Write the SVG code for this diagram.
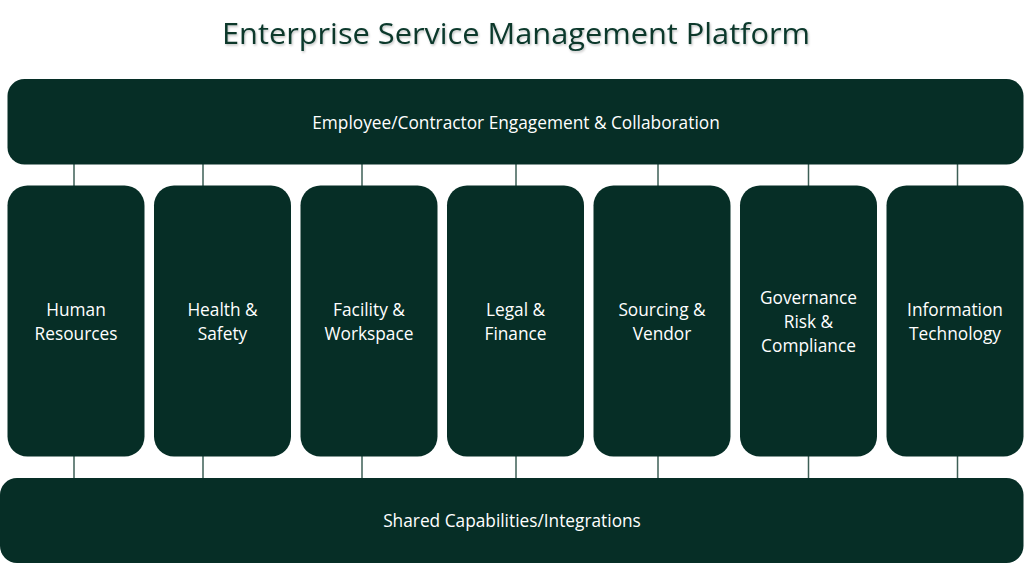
<svg xmlns="http://www.w3.org/2000/svg" width="1024" height="563" viewBox="0 0 1024 563">
<defs>
<style>
.box{fill:#062E26;}
.lbl{font-family:"Open Sans","Noto Sans",sans-serif;font-size:17.3px;fill:#FFFFFF;text-anchor:middle;}
.title{font-family:"Open Sans","Noto Sans",sans-serif;font-size:30px;fill:#08372B;text-anchor:middle;}
.conn{stroke:#3D5F56;stroke-width:1.5;fill:none;}
</style>
<filter id="sh" x="-5%" y="-20%" width="110%" height="150%">
<feDropShadow dx="1" dy="1.5" stdDeviation="1" flood-color="#000" flood-opacity="0.25"/>
</filter>
</defs>
<rect width="1024" height="563" fill="#FFFFFF"/>
<text class="title" x="516" y="44" textLength="588" lengthAdjust="spacingAndGlyphs" filter="url(#sh)">Enterprise Service Management Platform</text>
<g id="connectors">
<line class="conn" x1="74" y1="164" x2="74" y2="186"/>
<line class="conn" x1="203" y1="164" x2="203" y2="186"/>
<line class="conn" x1="362" y1="164" x2="362" y2="186"/>
<line class="conn" x1="516" y1="164" x2="516" y2="186"/>
<line class="conn" x1="658" y1="164" x2="658" y2="186"/>
<line class="conn" x1="808.5" y1="164" x2="808.5" y2="186"/>
<line class="conn" x1="957.5" y1="164" x2="957.5" y2="186"/>
<line class="conn" x1="74" y1="456" x2="74" y2="478"/>
<line class="conn" x1="203" y1="456" x2="203" y2="478"/>
<line class="conn" x1="362" y1="456" x2="362" y2="478"/>
<line class="conn" x1="516" y1="456" x2="516" y2="478"/>
<line class="conn" x1="658" y1="456" x2="658" y2="478"/>
<line class="conn" x1="808.5" y1="456" x2="808.5" y2="478"/>
<line class="conn" x1="957.5" y1="456" x2="957.5" y2="478"/>
</g>
<g id="top">
<rect class="box" x="7.5" y="79" width="1016" height="85.5" rx="17"/>
<text class="lbl" x="516" y="129">Employee/Contractor Engagement &amp; Collaboration</text>
</g>
<g id="hr">
<rect class="box" x="7.5" y="185.5" width="137" height="271" rx="20"/>
<text class="lbl" x="76" y="316">Human</text>
<text class="lbl" x="76" y="340">Resources</text>
</g>
<g id="hs">
<rect class="box" x="154" y="185.5" width="137" height="271" rx="20"/>
<text class="lbl" x="222.5" y="316">Health &amp;</text>
<text class="lbl" x="222.5" y="340">Safety</text>
</g>
<g id="fw">
<rect class="box" x="300.5" y="185.5" width="137" height="271" rx="20"/>
<text class="lbl" x="369" y="316">Facility &amp;</text>
<text class="lbl" x="369" y="340">Workspace</text>
</g>
<g id="lf">
<rect class="box" x="447" y="185.5" width="137" height="271" rx="20"/>
<text class="lbl" x="515.5" y="316">Legal &amp;</text>
<text class="lbl" x="515.5" y="340">Finance</text>
</g>
<g id="sv">
<rect class="box" x="593.5" y="185.5" width="137" height="271" rx="20"/>
<text class="lbl" x="662" y="316">Sourcing &amp;</text>
<text class="lbl" x="662" y="340">Vendor</text>
</g>
<g id="grc">
<rect class="box" x="740" y="185.5" width="137" height="271" rx="20"/>
<text class="lbl" x="808.5" y="304">Governance</text>
<text class="lbl" x="808.5" y="328">Risk &amp;</text>
<text class="lbl" x="808.5" y="352">Compliance</text>
</g>
<g id="it">
<rect class="box" x="886.5" y="185.5" width="137" height="271" rx="20"/>
<text class="lbl" x="955" y="316">Information</text>
<text class="lbl" x="955" y="340">Technology</text>
</g>
<g id="bottom">
<rect class="box" x="0" y="478" width="1023.5" height="85" rx="17"/>
<text class="lbl" x="512" y="527">Shared Capabilities/Integrations</text>
</g>
</svg>
